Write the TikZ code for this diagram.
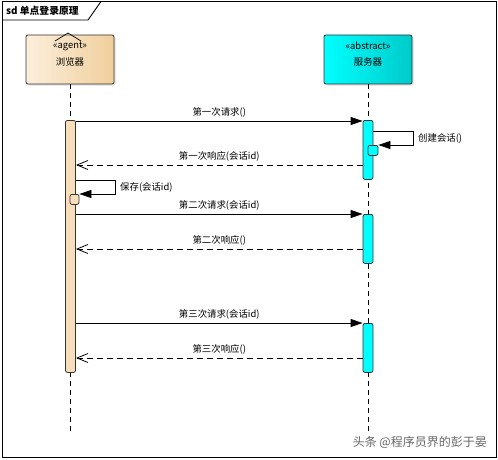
\documentclass[tikz,border=0pt]{standalone}
\usepackage{fontspec}
\newfontfamily\cjk{Noto Sans CJK SC}
\usepackage{tikz}
\usetikzlibrary{
  positioning,
  calc,
  arrows.meta,
  shadows
}
\definecolor{peach}{HTML}{F9DEBB}
\definecolor{peachlight}{HTML}{FCEEDC}
\definecolor{peachdark}{HTML}{F0CF9C}
\definecolor{aqua}{HTML}{00FFFF}
\definecolor{aquadark}{HTML}{00CACA}
\tikzstyle{txt}=[font=\cjk\fontsize{9.4}{11}\selectfont, inner sep=1pt]
\tikzstyle{lifeline}=[dashed, dash pattern=on 5pt off 4pt, line width=0.8pt]
\tikzstyle{actor}=[draw=black!80, rounded corners=2pt, minimum width=88pt, minimum height=49pt,
  line width=0.8pt, drop shadow={opacity=0.25, shadow xshift=1.5pt, shadow yshift=-1.5pt}]
\tikzstyle{activation}=[draw=black!80, rounded corners=2pt, minimum width=10pt, inner sep=0pt, line width=0.8pt]
\tikzstyle{call}=[-{Triangle[length=12pt,width=8pt]}, line width=0.8pt]
\tikzstyle{reply}=[-{Straight Barb[length=11pt,width=9pt]}, dashed, dash pattern=on 6pt off 4pt, line width=0.8pt]

\begin{document}
\begin{tikzpicture}[x=1pt, y=-1pt]
    \useasboundingbox (0,0) rectangle (498,460);

    % 外枠
    \draw[line width=0.9pt] (2,1.5) rectangle (496,457);
    \draw[line width=0.9pt] (2,20) -- (88,20) -- (101,1.5);
    \node[txt, font=\cjk\bfseries\fontsize{9.8}{11}\selectfont, anchor=west] (title) at (5,11) {sd 单点登录原理};

    % ライフラインの頭
    \node[actor, left color=peachlight, right color=peachdark] (browser) at (70,59.5) {};
    \node[actor, left color=aqua, right color=aquadark] (server) at (368,59.5) {};
    \node[txt] (browserst) at (70,46) {«agent»};
    \node[txt] (browsername) at (70,62) {浏览器};
    \node[txt] (serverst) at (368,46) {«abstract»};
    \node[txt] (servername) at (368,62) {服务器};
    \draw[line width=0.7pt] (55,41) -- (68,33) -- (81,41);

    % ライフライン
    \coordinate (browserend) at (70,434);
    \coordinate (serverend) at (368,434);
    \draw[lifeline] (browser.south) -- (browserend);
    \draw[lifeline] (server.south) -- (serverend);

    % 活性区間
    \node[activation, fill=peach, minimum height=252pt, anchor=north] (actB) at (70.5,120) {};
    \node[activation, fill=aqua, minimum height=59pt, anchor=north] (actS1) at (368,120) {};
    \node[activation, fill=aqua, minimum height=10pt, minimum width=10pt, anchor=north] (actS1b) at (373,145) {};
    \node[activation, fill=peach, minimum height=10pt, minimum width=9pt, anchor=north] (actBb) at (74.5,194) {};
    \node[activation, fill=aqua, minimum height=49pt, anchor=north] (actS2) at (368,214) {};
    \node[activation, fill=aqua, minimum height=49pt, anchor=north] (actS3) at (368,323) {};

    % メッセージの高さ
    \coordinate (m1) at (0,121);
    \coordinate (r1) at (0,165);
    \coordinate (m2) at (0,214);
    \coordinate (r2) at (0,249);
    \coordinate (m3) at (0,323);
    \coordinate (r3) at (0,358);

    % 要求と応答
    \draw[call] (actB.east |- m1) -- (actS1.west |- m1) node[txt, midway, above=2pt] {第一次请求()};
    \draw[reply] (actS1.west |- r1) -- (actB.east |- r1) node[txt, midway, above=2pt] {第一次响应(会话id)};
    \draw[call] (actB.east |- m2) -- (actS2.west |- m2) node[txt, midway, above=2pt] {第二次请求(会话id)};
    \draw[reply] (actS2.west |- r2) -- (actB.east |- r2) node[txt, midway, above=2pt] {第二次响应()};
    \draw[call] (actB.east |- m3) -- (actS3.west |- m3) node[txt, midway, above=2pt] {第三次请求(会话id)};
    \draw[reply] (actS3.west |- r3) -- (actB.east |- r3) node[txt, midway, above=2pt] {第三次响应()};

    % 自己呼び出し
    \coordinate (s1) at (0,131);
    \coordinate (b1) at (0,180);
    \draw[call] (actS1.east |- s1) -- (413,131) -- (413,145) -- (actS1b.east |- 0,145);
    \node[txt, anchor=west] (create) at (417,138) {创建会话()};
    \draw[call] (actB.east |- b1) -- (115,180) -- (115,194) -- (actBb.east |- 0,194);
    \node[txt, anchor=west] (save) at (119,187) {保存(会话id)};

    % 透かし
    \node[txt, text=black!60, font=\cjk\fontsize{12}{13}\selectfont, anchor=east] (mark) at (488,442) {头条 @程序员界的彭于晏};
  \end{tikzpicture}
\end{document}
